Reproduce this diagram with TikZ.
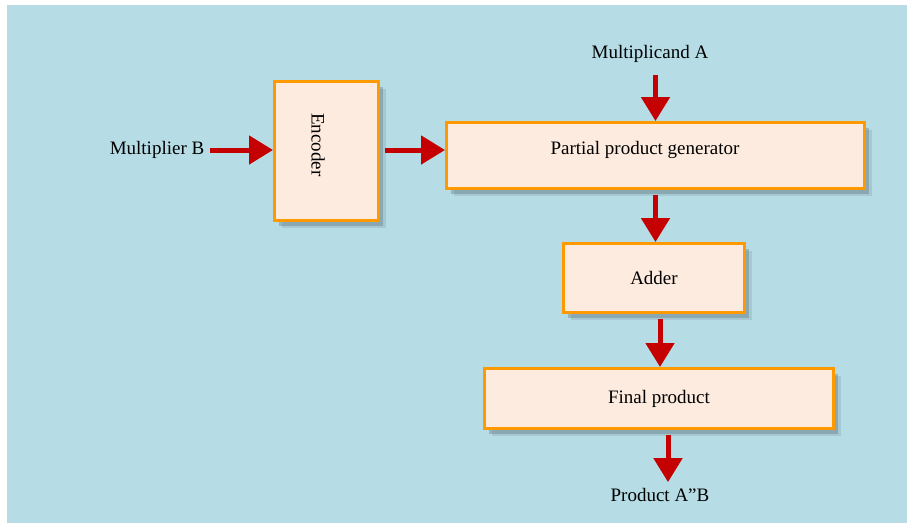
\documentclass[tikz,border=0pt]{standalone}
\usepackage{fontspec}
\setmainfont{Liberation Serif}
\usetikzlibrary{arrows.meta,shadows,calc}
\definecolor{bgblue}{RGB}{182,221,230}
\definecolor{boxfill}{RGB}{252,235,222}
\definecolor{boxorange}{RGB}{255,153,0}
\definecolor{arrred}{RGB}{196,0,0}
\definecolor{shade}{RGB}{90,110,120}
\begin{document}
\begin{tikzpicture}[x=1pt,y=-1pt,
  txt/.style={font=\fontsize{19}{23}\selectfont, inner sep=0pt},
  box/.style={draw=boxorange, line width=3pt, fill=boxfill, inner sep=0pt,
    font=\fontsize{19}{23}\selectfont,
    drop shadow={shadow xshift=7pt, shadow yshift=-7pt, fill=shade, opacity=0.18},
    drop shadow={shadow xshift=4pt, shadow yshift=-5pt, fill=shade, opacity=0.35}},
  arr/.style={draw=arrred, line width=5pt, -{Triangle[length=24pt,width=28pt]}}
]
\useasboundingbox (0,0) rectangle (907,523);
\fill[white] (0,0) rectangle (907,523);
\fill[bgblue] (7,5) rectangle (907,523);

\node[box, minimum width=104pt, minimum height=139pt] (enc) at (326.5,151) {};
\node[txt, rotate=-90] (enctxt) at (318,145) {Encoder};
\node[box, minimum width=418pt, minimum height=66pt] (ppg) at (655.5,155.5) {};
\node[txt] (ppgtxt) at (645,150) {Partial product generator};
\node[box, minimum width=181pt, minimum height=69pt] (add) at (654,278) {Adder};
\node[box, minimum width=349pt, minimum height=60pt] (fin) at (659,398.5) {Final product};

\node[txt] (mb) at (157,150) {Multiplier B};
\node[txt] (ma) at (650,54) {Multiplicand A};
\node[txt] (prod) at (660,495) {Product A”B};

\draw[arr, shorten <=6pt] (mb.east) -- (mb.east -| enc.west);
\draw[arr, shorten <=5pt] ([yshift=1pt]enc.east) -- ([yshift=1pt]enc.east -| ppg.west);
\draw[arr, shorten <=12pt] (ma.south -| ppg.north) -- (ppg.north);
\draw[arr, shorten <=4.5pt] (ppg.south) -- (ppg.south |- add.north);
\draw[arr, shorten <=5pt] ([xshift=6pt]add.south) -- ([xshift=6pt]add.south |- fin.north);
\draw[arr, shorten <=4.5pt, shorten >=6pt] ([xshift=9pt]fin.south) -- ([xshift=9pt]fin.south |- prod.north);
\end{tikzpicture}
\end{document}
